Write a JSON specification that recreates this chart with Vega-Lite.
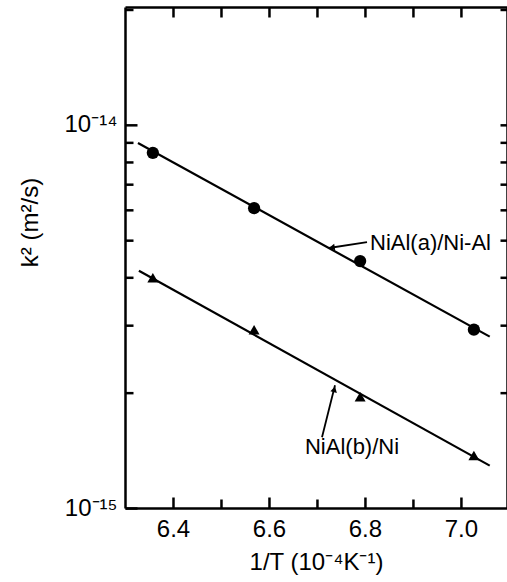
{
  "$schema": "https://vega.github.io/schema/vega-lite/v6.json",
  "width": 382,
  "height": 501,
  "autosize": {"type": "none"},
  "padding": {"left": 125, "top": 7, "right": 0, "bottom": 74},
  "background": "white",
  "config": {
    "view": {"stroke": null},
    "font": "Liberation Sans",
    "axis": {"grid": false, "domain": false, "domainColor": "black", "domainWidth": 2.5, "tickColor": "black", "tickWidth": 2.5, "tickRound": false, "labelColor": "black", "titleColor": "black"}
  },
  "layer": [
    {
      "data": {"values": [
        {"x": 6.358, "y": 8.45e-15},
        {"x": 6.569, "y": 6.06e-15},
        {"x": 6.79, "y": 4.41e-15},
        {"x": 7.027, "y": 2.92e-15}
      ]},
      "mark": {"type": "point", "shape": "circle", "filled": true, "color": "black", "size": 150, "opacity": 1},
      "encoding": {
        "x": {"field": "x", "type": "quantitative",
          "scale": {"domain": [6.3, 7.096], "nice": false, "zero": false},
          "axis": {"orient": "bottom", "domain": true, "tickColor": "black", "values": [6.4, 6.6, 6.8, 7.0], "format": ".1f", "tickSize": -11, "labelFontSize": 24, "labelPadding": 20, "title": "1/T (10⁻⁴K⁻¹)", "titleFontSize": 24, "titleFontWeight": "normal", "titlePadding": 9}},
        "y": {"field": "y", "type": "quantitative",
          "scale": {"type": "log", "domain": [1e-15, 2.03e-14], "nice": false},
          "axis": {"orient": "left", "domain": true, "tickColor": "black", "values": [1e-15, 1e-14], "tickSize": -12, "labelFontSize": 24, "labelPadding": 20, "labelExpr": "datum.value < 5e-15 ? '10⁻¹⁵' : '10⁻¹⁴'", "title": "k² (m²/s)", "titleFontSize": 24, "titleFontWeight": "normal", "titleX": -95, "titleY": 215, "titleAngle": -90, "titleAlign": "center", "titleBaseline": "middle"}}
      }
    },
    {
      "data": {"values": [
        {"x": 6.358, "y": 3.99e-15},
        {"x": 6.569, "y": 2.92e-15},
        {"x": 6.79, "y": 1.95e-15},
        {"x": 7.027, "y": 1.37e-15}
      ]},
      "mark": {"type": "point", "shape": "triangle-up", "filled": true, "color": "black", "size": 120, "opacity": 1},
      "encoding": {
        "x": {"field": "x", "type": "quantitative",
          "axis": {"orient": "top", "domain": true, "tickColor": "black", "values": [6.4, 6.5, 6.6, 6.7, 6.8, 6.9, 7.0], "tickSize": -10, "labels": false, "title": null}},
        "y": {"field": "y", "type": "quantitative",
          "axis": {"orient": "left", "tickColor": "black", "values": [2e-15, 3e-15, 4e-15, 5e-15, 6e-15, 7e-15, 8e-15, 9e-15, 2e-14], "tickSize": -8, "labels": false, "title": null}}
      }
    },
    {
      "data": {"values": [
        {"x": 6.327, "y": 8.97e-15},
        {"x": 7.06, "y": 2.8e-15}
      ]},
      "mark": {"type": "line", "color": "black", "strokeWidth": 2.2},
      "encoding": {
        "x": {"field": "x", "type": "quantitative", "axis": {"orient": "bottom", "tickColor": "black", "values": [6.5, 6.7, 6.9], "tickSize": -9, "labels": false, "title": null}},
        "y": {"field": "y", "type": "quantitative",
          "axis": {"orient": "right", "domain": true, "tickColor": "black", "values": [2e-15, 3e-15, 4e-15, 5e-15, 6e-15, 7e-15, 8e-15, 9e-15, 1e-14, 2e-14], "tickSize": -7, "labels": false, "title": null}}
      }
    },
    {
      "data": {"values": [
        {"x": 6.329, "y": 4.16e-15},
        {"x": 7.06, "y": 1.29e-15}
      ]},
      "mark": {"type": "line", "color": "black", "strokeWidth": 2.2},
      "encoding": {
        "x": {"field": "x", "type": "quantitative", "axis": null},
        "y": {"field": "y", "type": "quantitative", "axis": null}
      }
    },
    {
      "data": {"values": [
        {"x": 6.8043, "y": 4.94e-15, "x2": 6.725, "y2": 4.77e-15},
        {"x": 6.7105, "y": 1.53e-15, "x2": 6.7376, "y2": 2.09e-15}
      ]},
      "mark": {"type": "rule", "color": "black", "strokeWidth": 1.8},
      "encoding": {
        "x": {"field": "x", "type": "quantitative", "axis": null},
        "y": {"field": "y", "type": "quantitative", "axis": null},
        "x2": {"field": "x2"},
        "y2": {"field": "y2"}
      }
    },
    {
      "data": {"values": [
        {"x": 6.731, "y": 4.785e-15, "angle": 261},
        {"x": 6.7362, "y": 2.04e-15, "angle": 14}
      ]},
      "mark": {"type": "point", "shape": "triangle-up", "filled": true, "color": "black", "size": 45, "opacity": 1},
      "encoding": {
        "x": {"field": "x", "type": "quantitative", "axis": null},
        "y": {"field": "y", "type": "quantitative", "axis": null},
        "angle": {"field": "angle", "type": "quantitative", "scale": null}
      }
    },
    {
      "data": {"values": [
        {"x": 6.8105, "y": 4.92e-15, "label": "NiAl(a)/Ni-Al"},
        {"x": 6.675, "y": 1.44e-15, "label": "NiAl(b)/Ni"}
      ]},
      "mark": {"type": "text", "align": "left", "baseline": "middle", "fontSize": 22, "font": "Liberation Sans", "color": "black"},
      "encoding": {
        "x": {"field": "x", "type": "quantitative", "axis": null},
        "y": {"field": "y", "type": "quantitative", "axis": null},
        "text": {"field": "label"}
      }
    }
  ],
  "resolve": {"axis": {"x": "independent", "y": "independent"}}
}
